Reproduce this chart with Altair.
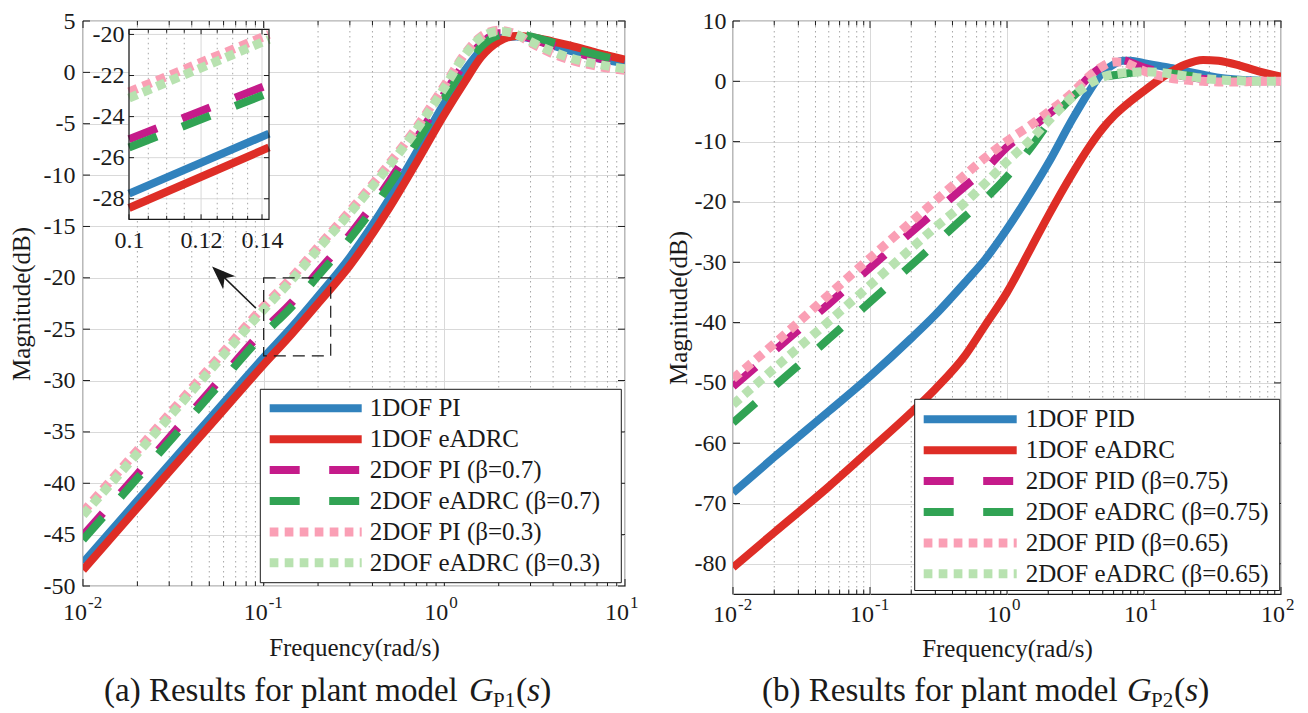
import altair as alt
import pandas as pd

FONT = "Liberation Serif"
INK = "#1a1a1a"
GRID = "#d9d9d9"
MINOR = "#a6a6a6"

# ---------------- panel (a) data ----------------
freq_a = [0.01, 0.02, 0.05, 0.1, 0.1425, 0.2, 0.3, 0.5, 0.7, 1.0, 1.3, 1.6, 2.0, 2.5, 3.0, 4.0, 5.0, 7.0, 10.0]
a_1dof_pi = [-47.75, -41.7, -33.75, -27.75, -24.83, -21.8, -18.0, -12.2, -7.8, -3.0, 0.2, 2.2, 3.3, 3.5, 3.3, 2.6, 2.1, 1.4, 0.9]
a_1dof_eadrc = [-48.45, -42.4, -34.45, -28.45, -25.5, -22.5, -18.8, -13.1, -8.8, -4.1, -0.9, 1.5, 3.0, 3.55, 3.45, 3.0, 2.6, 1.9, 1.25]
a_2dof_pi_07 = [-45.1, -39.1, -31.1, -25.1, -22.43, -19.4, -15.8, -10.5, -6.5, -2.1, 0.9, 2.8, 3.8, 3.8, 3.3, 2.6, 2.1, 1.4, 0.8]
a_2dof_ea_07 = [-45.5, -39.5, -31.5, -25.5, -22.84, -19.8, -16.2, -10.9, -6.9, -2.5, 0.5, 2.5, 3.6, 3.8, 3.5, 2.9, 2.4, 1.7, 1.1]
a_2dof_pi_03 = [-42.8, -36.8, -28.8, -22.8, -20.0, -17.0, -13.5, -8.8, -5.4, -1.3, 1.8, 3.5, 4.1, 3.7, 2.9, 1.8, 1.2, 0.6, 0.2]
a_2dof_ea_03 = [-43.1, -37.1, -29.1, -23.1, -20.24, -17.2, -13.7, -9.0, -5.6, -1.5, 1.7, 3.4, 4.0, 3.7, 3.0, 2.0, 1.4, 0.8, 0.35]
labels_a = ["1DOF PI", "1DOF eADRC", "2DOF PI (β=0.7)", "2DOF eADRC (β=0.7)",
            "2DOF PI (β=0.3)", "2DOF eADRC (β=0.3)"]

# ---------------- panel (b) data ----------------
freq_b = [0.01, 0.02, 0.05, 0.1, 0.2, 0.3, 0.5, 0.7, 1.0, 1.5, 2.0, 3.0, 4.0, 5.0, 6.0, 7.0, 8.0,
          10.0, 15.0, 20.0, 27.0, 35.0, 50.0, 70.0, 100.0]
b_1dof_pid = [-68.2, -62.3, -54.7, -48.9, -42.6, -38.7, -33.2, -29.4, -24.5, -18.3, -13.6, -6.3, -1.6,
              1.5, 2.8, 3.4, 3.4, 3.0, 2.3, 1.7, 1.1, 0.6, 0.25, 0.1, 0.0]
b_1dof_eadrc = [-80.6, -74.8, -67.2, -61.1, -54.9, -51.0, -45.3, -40.3, -35.0, -27.6, -22.3, -15.3, -10.8,
                -7.8, -5.8, -4.4, -3.3, -1.6, 1.3, 2.8, 3.55, 3.4, 2.6, 1.6, 0.8]
b_2dof_pid_075 = [-50.6, -44.7, -36.9, -30.9, -25.0, -21.6, -17.3, -14.5, -10.9, -7.8, -5.5, -2.2, 0.8,
                  2.5, 3.4, 3.5, 3.1, 2.3, 1.3, 0.8, 0.4, 0.15, 0.05, 0.0, 0.0]
b_2dof_ea_075 = [-56.6, -50.6, -42.7, -36.6, -30.5, -26.9, -22.3, -19.4, -15.8, -10.9, -7.0, -2.6, -0.3,
                 0.6, 1.0, 1.2, 1.4, 1.6, 1.4, 1.0, 0.6, 0.3, 0.1, 0.0, 0.0]
b_2dof_pid_065 = [-49.3, -43.5, -35.4, -29.3, -23.3, -19.8, -15.4, -12.6, -9.9, -7.2, -5.1, -1.9, 0.9,
                  2.5, 3.2, 3.2, 2.7, 1.7, 0.6, 0.2, 0.0, -0.1, -0.1, 0.0, 0.0]
b_2dof_ea_065 = [-53.6, -47.6, -39.8, -33.8, -27.7, -24.2, -20.0, -16.8, -13.3, -9.6, -6.6, -2.6, -0.4,
                 0.7, 1.2, 1.4, 1.5, 1.6, 1.3, 0.9, 0.5, 0.25, 0.1, 0.0, 0.0]
labels_b = ["1DOF PID", "1DOF eADRC", "2DOF PID (β=0.75)", "2DOF eADRC (β=0.75)",
            "2DOF PID (β=0.65)", "2DOF eADRC (β=0.65)"]

# ---------------- ticks ----------------
xmaj_a = [0.01, 0.1, 1.0, 10.0]
xexp_a = ["-2", "-1", "0", "1"]
xmaj_b = [0.01, 0.1, 1.0, 10.0, 100.0]
xexp_b = ["-2", "-1", "0", "1", "2"]
yval_a = [-50, -45, -40, -35, -30, -25, -20, -15, -10, -5, 0, 5]
yval_b = [-80, -70, -60, -50, -40, -30, -20, -10, 0, 10]

# inset (a)
inset_xdom = [0.1, 0.1425]
inset_ydom = [-29.0, -19.75]
inset_xmaj = [0.1, 0.12, 0.14]
inset_xmin = [0.105, 0.11, 0.115, 0.125, 0.13, 0.135]
inset_yval = [-20, -22, -24, -26, -28]
zoom_box = {"f": [0.1], "f2": [0.235], "db": [-20.0], "db2": [-27.6]}
arrow = {"f": [0.0906], "f2": [0.0560], "db": [-22.95], "db2": [-19.4]}
arrow_tip = {"f": [0.0518], "db": [-18.9]}

COLORS = ["#3182bd", "#de2d26", "#c51b8a", "#31a354", "#fa9fb5", "#b8e2b0"]
STYLES = [
    {"w": 8, "dash": None, "leg": None},
    {"w": 8, "dash": None, "leg": None},
    {"w": 8, "dash": [30, 27], "leg": [30, 29.5]},
    {"w": 8, "dash": [30, 27], "leg": [30, 29.5]},
    {"w": 9, "dash": [9, 6], "leg": [8.7, 6.3]},
    {"w": 9, "dash": [9, 6], "leg": [8.7, 6.3]},
]
ONE = pd.DataFrame({"k": [0]})


def line_kw(sty, dash_key):
    kw = dict(strokeWidth=sty["w"], strokeCap="butt")
    if sty[dash_key]:
        kw["strokeDash"] = sty[dash_key]
    return kw


def build_panel(freqs, series, labels, W, H, xdom, xmaj, xexp, ydom, yvals,
                leg, caption, cap_y, lab_pad, title_pad, xtitle_pad, xlab_off, extra=False):
    xs = alt.Scale(type="log", domain=xdom, nice=False)
    ys = alt.Scale(domain=ydom, nice=False, zero=False)
    AX = alt.Axis(values=xmaj, labels=False, ticks=False, domain=False, grid=True,
                  gridColor=GRID, gridWidth=1, title="Frequency(rad/s)", titleFont=FONT,
                  titleFontSize=25, titleFontWeight="normal", titleColor=INK,
                  titlePadding=xtitle_pad)
    AY = alt.Axis(values=yvals, labelExpr="datum.value + ''", ticks=False, domain=False, grid=True,
                  gridColor=GRID, gridWidth=1, labelFont=FONT, labelFontSize=24, labelColor=INK,
                  labelPadding=lab_pad, title="Magnitude(dB)", titleFont=FONT, titleFontSize=25,
                  titleFontWeight="normal", titleColor=INK, titlePadding=title_pad)

    def X(field):
        return alt.X(field, scale=xs, axis=AX)

    def Y(field):
        return alt.Y(field, scale=ys, axis=AY)

    L = []
    minors = [m * d for d in xmaj[:-1] for m in range(2, 10)]
    mdf = pd.DataFrame({"f": minors})
    jdf = pd.DataFrame({"f": xmaj})
    ydf = pd.DataFrame({"v": yvals})
    L.append(alt.Chart(mdf).mark_rule(color=MINOR, strokeWidth=1, strokeDash=[1.5, 3.5]).encode(
        x=X("f:Q")))
    for df, ln in ((jdf, 7), (mdf, 4.5)):
        L.append(alt.Chart(df).mark_rule(color=INK, strokeWidth=1).encode(
            x=X("f:Q"), y=alt.value(H), y2=alt.value(H - ln)))
        L.append(alt.Chart(df).mark_rule(color=INK, strokeWidth=1).encode(
            x=X("f:Q"), y=alt.value(0), y2=alt.value(ln)))
    L.append(alt.Chart(ydf).mark_rule(color=INK, strokeWidth=1).encode(
        y=Y("v:Q"), x=alt.value(0), x2=alt.value(7)))
    L.append(alt.Chart(ydf).mark_rule(color=INK, strokeWidth=1).encode(
        y=Y("v:Q"), x=alt.value(W), x2=alt.value(W - 7)))
    for vals, col, sty in zip(series, COLORS, STYLES):
        df = pd.DataFrame({"f": freqs, "db": vals})
        L.append(alt.Chart(df).mark_line(color=col, interpolate="monotone", clip=True,
                                         **line_kw(sty, "dash")).encode(
            x=X("f:Q"), y=Y("db:Q")))
    if extra:
        L.append(alt.Chart(pd.DataFrame(zoom_box)).mark_rect(
            fillOpacity=0, stroke=INK, strokeWidth=1.2, strokeDash=[12, 7]).encode(
            x=X("f:Q"), x2="f2:Q", y=Y("db:Q"), y2="db2:Q"))
        L.append(alt.Chart(pd.DataFrame(arrow)).mark_rule(color=INK, strokeWidth=1.5).encode(
            x=X("f:Q"), x2="f2:Q", y=Y("db:Q"), y2="db2:Q"))
        L.append(alt.Chart(pd.DataFrame(arrow_tip)).mark_point(
            shape="M0,0 L0.75,2 L0,1.45 L-0.75,2 Z", filled=True, fill=INK, opacity=1,
            strokeWidth=0, size=560, angle=313.5).encode(x=X("f:Q"), y=Y("db:Q")))
    bx0, bx1, by0, by1, sx0, sx1, tx, rows = leg
    L.append(alt.Chart(ONE).mark_rect(fill="white", stroke=INK, strokeWidth=1).encode(
        x=alt.value(bx0), x2=alt.value(bx1), y=alt.value(by0), y2=alt.value(by1)))
    for lab, col, sty, ry in zip(labels, COLORS, STYLES, rows):
        L.append(alt.Chart(ONE).mark_rule(color=col, **line_kw(sty, "leg")).encode(
            x=alt.value(sx0), x2=alt.value(sx1), y=alt.value(ry)))
        L.append(alt.Chart(ONE).mark_text(text=lab, font=FONT, fontSize=25, align="left",
                                          baseline="middle", color=INK).encode(
            x=alt.value(tx), y=alt.value(ry)))
    xt = pd.DataFrame({"f": xmaj, "base": ["10"] * len(xmaj), "exp": xexp})
    L.append(alt.Chart(xt).mark_text(font=FONT, fontSize=24, color=INK, align="right",
                                     baseline="alphabetic", dx=4).encode(
        x=X("f:Q"), y=alt.value(H + xlab_off), text="base:N"))
    L.append(alt.Chart(xt).mark_text(font=FONT, fontSize=17, color=INK, align="left",
                                     baseline="alphabetic", dx=5).encode(
        x=X("f:Q"), y=alt.value(H + xlab_off - 12), text="exp:N"))
    for c in caption:
        L.append(alt.Chart(ONE).mark_text(text=c["t"], font=FONT, fontSize=c.get("s", 34),
                                          fontStyle=c.get("st", "normal"), align="left",
                                          baseline="alphabetic", color=INK).encode(
            x=alt.value(c["x"]), y=alt.value(cap_y + c.get("dy", 0))))
    return L


def caption_parts(tag, sub, x0):
    return [{"t": f"({tag}) Results for plant model", "x": x0, "s": 33},
            {"t": "G", "x": x0 + 365, "st": "italic"},
            {"t": sub, "x": x0 + 389, "s": 21, "dy": 6},
            {"t": "(", "x": x0 + 412},
            {"t": "s", "x": x0 + 423, "st": "italic"},
            {"t": ")", "x": x0 + 436}]


# ---------- panel (a) ----------
WA, HA = 542, 565
leg_a = (177.3, 538.3, 368.3, 561.7, 186.7, 278.7, 286.7,
         [387.3, 418.2, 449.1, 480.0, 510.9, 541.8])
main_a = build_panel(
    freq_a, [a_1dof_pi, a_1dof_eadrc, a_2dof_pi_07, a_2dof_ea_07, a_2dof_pi_03, a_2dof_ea_03],
    labels_a, WA, HA, [0.01, 10.0], xmaj_a, xexp_a, [-50, 5], yval_a, leg_a,
    caption_parts("a", "P1", 21), 680, 8, 9, 49, 34, extra=True)

# inset
IX0, IX1, IYB, IYT = 46, 186, 198.3, 8.3
ixs = alt.Scale(type="log", domain=inset_xdom, range=[IX0, IX1], nice=False)
iys = alt.Scale(domain=inset_ydom, range=[IYB, IYT], nice=False, zero=False)
IAX = alt.Axis(orient="bottom", offset=-(HA - IYB), values=inset_xmaj, labelFlush=False,
               labelExpr="format(datum.value, '~g')", ticks=False, domain=False, grid=False,
               labelFont=FONT, labelFontSize=24, labelColor=INK, labelPadding=9, title=None)
IAY = alt.Axis(orient="left", offset=-IX0, values=inset_yval, labelExpr="datum.value + ''",
               ticks=False, domain=False, grid=False, labelFont=FONT, labelFontSize=24,
               labelColor=INK, labelPadding=5, title=None)


def IX(field):
    return alt.X(field, scale=ixs, axis=IAX)


def IY(field):
    return alt.Y(field, scale=iys, axis=IAY)


frame = pd.DataFrame({"f": [inset_xdom[0]], "f2": [inset_xdom[1]],
                      "db": [inset_ydom[0]], "db2": [inset_ydom[1]]})
gmaj = pd.DataFrame({"f": inset_xmaj, "lo": inset_ydom[0], "hi": inset_ydom[1]})
gmin = pd.DataFrame({"f": inset_xmin, "lo": inset_ydom[0], "hi": inset_ydom[1]})
gy = pd.DataFrame({"v": inset_yval, "lo": inset_xdom[0], "hi": inset_xdom[1]})
inset = [alt.Chart(frame).mark_rect(fill="white", strokeWidth=0).encode(
    x=IX("f:Q"), x2="f2:Q", y=IY("db:Q"), y2="db2:Q")]
inset.append(alt.Chart(gmin).mark_rule(color=MINOR, strokeDash=[1.5, 3.5], strokeWidth=1).encode(
    x=IX("f:Q"), y=IY("lo:Q"), y2="hi:Q"))
inset.append(alt.Chart(gmaj).mark_rule(color=GRID, strokeWidth=1).encode(
    x=IX("f:Q"), y=IY("lo:Q"), y2="hi:Q"))
inset.append(alt.Chart(gy).mark_rule(color=GRID, strokeWidth=1).encode(
    y=IY("v:Q"), x=IX("lo:Q"), x2="hi:Q"))
for tdf, ln in ((gmaj, 5), (gmin, 3.5)):
    inset.append(alt.Chart(tdf).mark_rule(color=INK, strokeWidth=1).encode(
        x=IX("f:Q"), y=alt.value(IYB), y2=alt.value(IYB - ln)))
    inset.append(alt.Chart(tdf).mark_rule(color=INK, strokeWidth=1).encode(
        x=IX("f:Q"), y=alt.value(IYT), y2=alt.value(IYT + ln)))
inset.append(alt.Chart(gy).mark_rule(color=INK, strokeWidth=1).encode(
    y=IY("v:Q"), x=alt.value(IX0), x2=alt.value(IX0 + 5)))
inset.append(alt.Chart(gy).mark_rule(color=INK, strokeWidth=1).encode(
    y=IY("v:Q"), x=alt.value(IX1), x2=alt.value(IX1 - 5)))
sel = [i for i, f in enumerate(freq_a) if inset_xdom[0] <= f <= inset_xdom[1]]
for vals, col, sty in zip([a_1dof_pi, a_1dof_eadrc, a_2dof_pi_07, a_2dof_ea_07, a_2dof_pi_03, a_2dof_ea_03],
                          COLORS, STYLES):
    df = pd.DataFrame({"f": [freq_a[i] for i in sel], "db": [vals[i] for i in sel]})
    inset.append(alt.Chart(df).mark_line(color=col, **line_kw(sty, "dash")).encode(
        x=IX("f:Q"), y=IY("db:Q")))
inset.append(alt.Chart(frame).mark_rect(fillOpacity=0, stroke=INK, strokeWidth=1.2).encode(
    x=IX("f:Q"), x2="f2:Q", y=IY("db:Q"), y2="db2:Q"))

panel_a = alt.layer(alt.layer(*main_a), alt.layer(*inset)).resolve_scale(
    x="independent", y="independent").properties(width=WA, height=HA)

# ---------- panel (b) ----------
WB, HB = 548, 573
leg_b = (181.7, 546.7, 378.3, 569.5, 190.7, 283.7, 292.7,
         [398.3, 429.2, 460.1, 491.0, 521.9, 552.8])
main_b = build_panel(
    freq_b, [b_1dof_pid, b_1dof_eadrc, b_2dof_pid_075, b_2dof_ea_075, b_2dof_pid_065, b_2dof_ea_065],
    labels_b, WB, HB, [0.01, 100.0], xmaj_b, xexp_b, [-85, 10], yval_b, leg_b,
    caption_parts("b", "P2", 29), 680, 7, 3, 42, 28)
panel_b = alt.layer(*main_b).properties(width=WB, height=HB)

chart = alt.hconcat(panel_a, panel_b, spacing=108, bounds="flush").properties(
    padding={"left": 0, "right": 4, "top": 0, "bottom": 0}, background="white"
).configure_view(stroke=INK, strokeWidth=1.2)

chart.save("out.html", embed_options={"renderer": "svg", "actions": False})
